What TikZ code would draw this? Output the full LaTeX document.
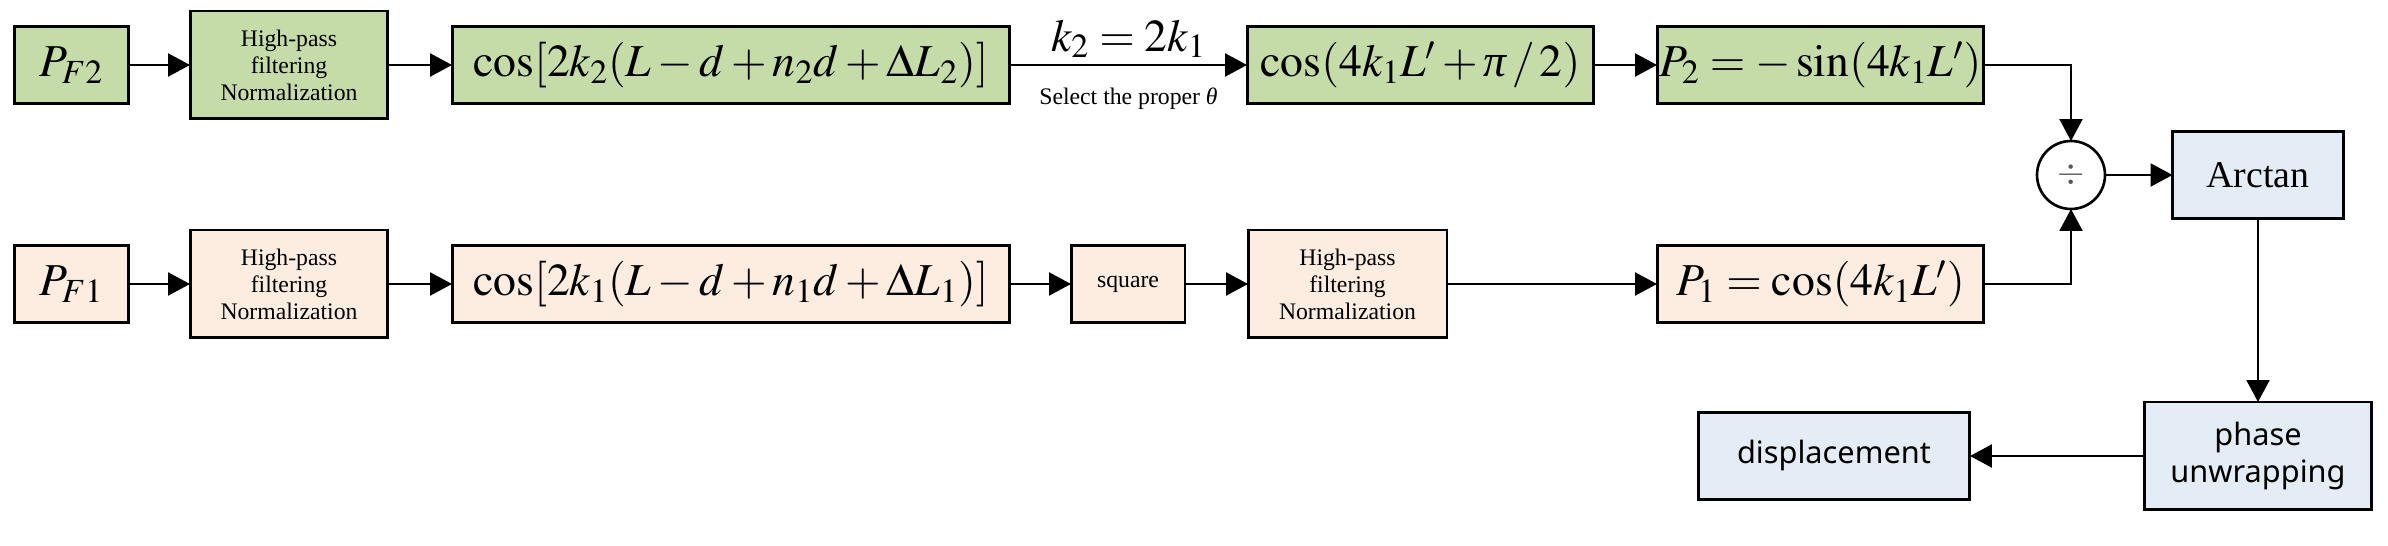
\documentclass[tikz,border=0pt]{standalone}
\usepackage{mathptmx}
\usepackage[no-math]{fontspec}
\setmainfont{Liberation Serif}
\newfontfamily\uisans{Noto Sans}
\usetikzlibrary{arrows.meta}
\definecolor{grnfill}{RGB}{197,220,168}
\definecolor{pchfill}{RGB}{253,237,224}
\definecolor{blufill}{RGB}{228,236,246}
\newcommand{\itpi}{\mbox{\itshape π}}
\newcommand{\ittheta}{\mbox{\itshape θ}}
\begin{document}
\begin{tikzpicture}[x=0.02cm,y=-0.02cm,inner sep=0pt,outer sep=0pt,line width=1.5pt,
>={Triangle[length=12.5pt,width=13pt]},
sysblock/.style={draw,rectangle,minimum height=1.54cm,line width=1.7pt},
grnblock/.style={sysblock,fill=grnfill},
pchblock/.style={sysblock,fill=pchfill},
blublock/.style={sysblock,fill=blufill},
bigmath/.style={font=\fontsize{26}{30}\selectfont},
smalltext/.style={font=\fontsize{13.5}{15.4}\selectfont,align=center},
sanstext/.style={font=\uisans\fontsize{17.5}{21}\selectfont,align=center}]
\useasboundingbox (0,0) rectangle (2388,546);
% upper branch
\draw (71.5,65) node[grnblock,minimum width=2.3cm,bigmath] (PF2) {$P_{F2}$};
\draw (289,65) node[grnblock,minimum width=3.96cm,minimum height=2.16cm,smalltext] (HP2) {High-pass\\filtering\\Normalization};
\draw (731,65) node[grnblock,minimum width=11.16cm,bigmath] (C2) {$\cos[2k_2(L-d+n_2d+\Delta L_2)]$};
\draw (1420.5,65) node[grnblock,minimum width=6.94cm,bigmath] (C4) {$\cos(4k_1L'+\itpi\,/\,2)$};
\draw (1820.5,65) node[grnblock,minimum width=6.54cm,bigmath] (P2) {$P_2=-\sin(4k_1L')$};
% lower branch
\draw (71.5,284) node[pchblock,minimum width=2.3cm,bigmath] (PF1) {$P_{F1}$};
\draw (289,284) node[pchblock,minimum width=3.96cm,minimum height=2.16cm,smalltext] (HP1) {High-pass\\filtering\\Normalization};
\draw (731,284) node[pchblock,minimum width=11.16cm,bigmath] (C1) {$\cos[2k_1(L-d+n_1d+\Delta L_1)]$};
\draw (1128,284) node[pchblock,minimum width=2.28cm,smalltext] (SQ) {square};
\draw (1347.5,284) node[pchblock,minimum width=3.98cm,minimum height=2.16cm,smalltext] (HP3) {High-pass\\filtering\\Normalization};
\draw (1820.5,284) node[pchblock,minimum width=6.54cm,bigmath] (P1) {$P_1=\cos(4k_1L')$};
% ratio and output
\draw (2071,175) node[draw,circle,minimum size=1.36cm,font=\fontsize{20}{22}\selectfont] (DIV) {\textcolor{black!65}{$\div$}};
\draw (2258,175) node[blublock,minimum width=3.42cm,minimum height=1.74cm,font=\fontsize{21.5}{25}\selectfont] (AT) {Arctan};
\draw (2258,456) node[blublock,minimum width=4.54cm,minimum height=2.16cm,sanstext] (PU) {phase\\unwrapping};
\draw (1834,456) node[blublock,minimum width=5.44cm,minimum height=1.74cm,sanstext] (DS) {displacement};
\draw[->] (PF2.0) -- (HP2.180);
\draw[->] (HP2.0) -- (C2.180);
\draw[->] (C2.0) -- (C4.180) node[midway,above=4pt,bigmath] {$k_2=2k_1$}
  node[midway,below=13pt,smalltext] {Select the proper \ittheta};
\draw[->] (C4.0) -- (P2.180);
\draw[->] (PF1.0) -- (HP1.180);
\draw[->] (HP1.0) -- (C1.180);
\draw[->] (C1.0) -- (SQ.180);
\draw[->] (SQ.0) -- (HP3.180);
\draw[->] (HP3.0) -- (P1.180);
\draw[->] (P2.0) -| (DIV.90);
\draw[->] (P1.0) -| (DIV.-90);
\draw[->] (DIV.0) -- (AT.180);
\draw[->] (AT.-90) -- (PU.90);
\draw[->] (PU.180) -- (DS.0);
\end{tikzpicture}
\end{document}
